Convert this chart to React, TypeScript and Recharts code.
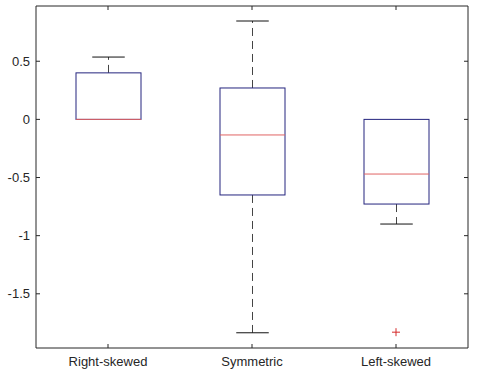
import React from 'react';
import { ComposedChart, Bar, Scatter, XAxis, YAxis } from 'recharts';

const categories = ['Right-skewed', 'Symmetric', 'Left-skewed'];
const minValues = [0, -1.835, -0.9];
const q1Values = [0, -0.65, -0.728];
const medianValues = [0, -0.134, -0.47];
const q3Values = [0.4, 0.27, 0];
const maxValues = [0.536, 0.846, 0];
const outlierValues: (number | null)[] = [null, null, -1.83];
const yTicks = [-1.5, -1, -0.5, 0, 0.5];
const yTickLabels: Record<string, string> = { '-1.5': '-1.5', '-1': '-1', '-0.5': '-0.5', '0': '0', '0.5': '0.5' };
const yDomain = [-1.966, 0.975];

const data = categories.map((name, i) => ({
  name,
  min: minValues[i],
  q1: q1Values[i],
  median: medianValues[i],
  q3: q3Values[i],
  max: maxValues[i],
  range: [minValues[i], maxValues[i]],
  outlier: outlierValues[i],
}));

const AXIS = '#262626';
const FONT = '"Liberation Sans", Arial, sans-serif';
const BOX = '#24247e';
const MED = '#e06464';
const WHISK = '#444444';
const DASH = '8 5';

const BoxShape = (props: any) => {
  const { x, y, width, height, payload } = props;
  if (x == null || y == null) return null;
  const top = Math.min(y, y + height);
  const bottom = Math.max(y, y + height);
  const lo = payload.min;
  const hi = payload.max;
  const pix = (v: number) => (hi === lo ? top : top + ((hi - v) / (hi - lo)) * (bottom - top));
  const cx = x + width / 2;
  const capHalf = width / 4;
  const yQ1 = pix(payload.q1);
  const yQ3 = pix(payload.q3);
  const yMed = pix(payload.median);
  const yMin = pix(payload.min);
  const yMax = pix(payload.max);
  const showTop = payload.max > payload.q3;
  const showBottom = payload.min < payload.q1;
  return (
    <g>
      {showTop && <line x1={cx} x2={cx} y1={yQ3} y2={yMax} stroke={WHISK} strokeDasharray={DASH} />}
      {showBottom && <line x1={cx} x2={cx} y1={yQ1} y2={yMin} stroke={WHISK} strokeDasharray={DASH} />}
      {showTop && <line x1={cx - capHalf} x2={cx + capHalf} y1={yMax} y2={yMax} stroke="#111" />}
      {showBottom && <line x1={cx - capHalf} x2={cx + capHalf} y1={yMin} y2={yMin} stroke="#111" />}
      <rect x={x} y={yQ3} width={width} height={Math.max(0, yQ1 - yQ3)} fill="none" stroke={BOX} />
      <line x1={x} x2={x + width} y1={yMed} y2={yMed} stroke={MED} />
    </g>
  );
};

const PlusShape = (props: any) => {
  const { cx, cy, payload } = props;
  if (payload == null || payload.outlier == null || cx == null || cy == null || isNaN(cy)) return null;
  const s = 4;
  return (
    <g>
      <line x1={cx - s} x2={cx + s} y1={cy} y2={cy} stroke="#d42a2a" />
      <line x1={cx} x2={cx} y1={cy - s} y2={cy + s} stroke="#d42a2a" />
    </g>
  );
};

const LeftTick = (props: any) => {
  const { x, y, payload } = props;
  return (
    <g>
      <line x1={x} x2={x + 4} y1={y} y2={y} stroke={AXIS} />
      <text x={x - 6} y={y} dy={4.5} textAnchor="end" fontSize={13} fontFamily={FONT} fill={AXIS}>
        {yTickLabels[String(payload.value)] ?? String(payload.value)}
      </text>
    </g>
  );
};

const RightTick = (props: any) => {
  const { x, y } = props;
  return <line x1={x} x2={x - 4} y1={y} y2={y} stroke={AXIS} />;
};

const BottomTick = (props: any) => {
  const { x, y, payload } = props;
  return (
    <g>
      <line x1={x} x2={x} y1={y} y2={y - 4} stroke={AXIS} />
      <text x={x} y={y + 18} textAnchor="middle" fontSize={13} fontFamily={FONT} fill={AXIS}>
        {payload.value}
      </text>
    </g>
  );
};

const TopTick = (props: any) => {
  const { x, y } = props;
  return <line x1={x} x2={x} y1={y} y2={y + 4} stroke={AXIS} />;
};

export default function App() {
  return (
    <div style={{ position: 'absolute', left: 0, top: 0, width: 478, height: 382, background: '#fff' }}>
      <ComposedChart width={478} height={382} data={data} margin={{ top: 0, right: 0, bottom: 0, left: 0 }}>
        <XAxis
          dataKey="name"
          type="category"
          height={34}
          tickSize={0}
          tickMargin={0}
          tickLine={false}
          axisLine={{ stroke: AXIS }}
          tick={<BottomTick />}
          interval={0}
        />
        <XAxis
          xAxisId="top"
          dataKey="name"
          type="category"
          orientation="top"
          height={6}
          tickSize={0}
          tickMargin={0}
          tickLine={false}
          axisLine={{ stroke: AXIS }}
          tick={<TopTick />}
          interval={0}
        />
        <YAxis
          type="number"
          domain={yDomain}
          ticks={yTicks}
          width={36}
          tickSize={0}
          tickMargin={0}
          tickLine={false}
          axisLine={{ stroke: AXIS }}
          tick={<LeftTick />}
          interval={0}
          allowDataOverflow
        />
        <YAxis
          yAxisId="right"
          orientation="right"
          type="number"
          domain={yDomain}
          ticks={yTicks}
          width={10}
          tickSize={0}
          tickMargin={0}
          tickLine={false}
          axisLine={{ stroke: AXIS }}
          tick={<RightTick />}
          interval={0}
          allowDataOverflow
        />
        <Bar dataKey="range" barSize={65} shape={<BoxShape />} isAnimationActive={false} />
        <Scatter dataKey="outlier" shape={<PlusShape />} isAnimationActive={false} />
      </ComposedChart>
    </div>
  );
}
